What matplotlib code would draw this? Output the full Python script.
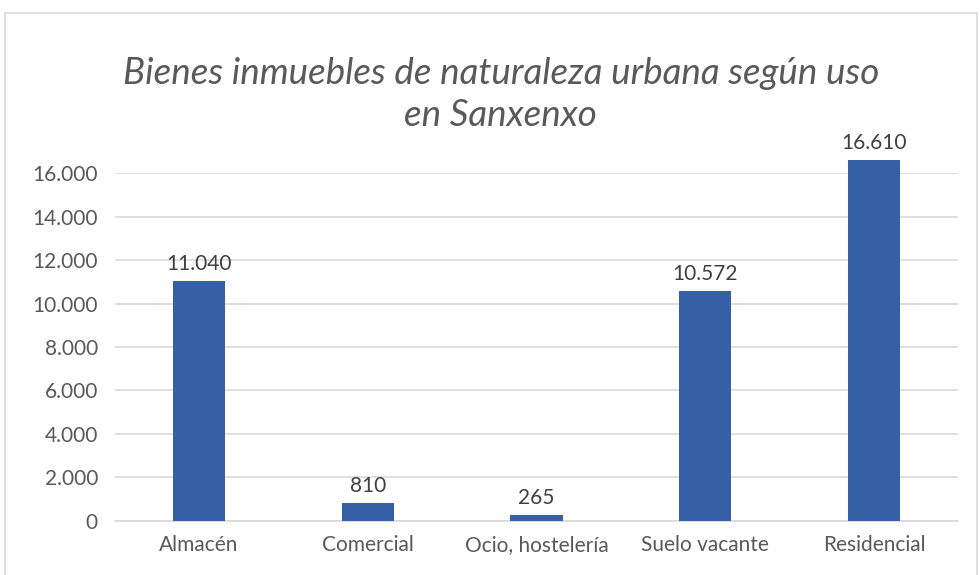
import matplotlib
matplotlib.use('Agg')
import matplotlib.pyplot as plt
from matplotlib.patches import Rectangle

# datos
categorias = ['Almacén', 'Comercial', 'Ocio, hostelería', 'Suelo vacante', 'Residencial']
valores = [11040, 810, 265, 10572, 16610]
ticks_y = [0, 2000, 4000, 6000, 8000, 10000, 12000, 14000, 16000]
etiquetas_y = ['0', '2.000', '4.000', '6.000', '8.000', '10.000', '12.000', '14.000', '16.000']
etiquetas_barras = ['11.040', '810', '265', '10.572', '16.610']
titulo = 'Bienes inmuebles de naturaleza urbana según uso\nen Sanxenxo'

plt.rcParams['font.family'] = ['Lato', 'DejaVu Sans']

fig = plt.figure(figsize=(9.8, 5.75), dpi=100)
ax = fig.add_axes([0.117, 0.094, 0.861, 0.605])

# marco del gráfico
fig.patches.append(Rectangle((5 / 980, -0.05), 972 / 980, 1 - 13 / 575 + 0.05,
                             transform=fig.transFigure, fill=False,
                             edgecolor='#d9d9d9', linewidth=1.2))

x = list(range(len(categorias)))
barras = ax.bar(x, valores, width=0.31, color='#3660a5', zorder=3, clip_on=False)

for xi, v, txt in zip(x, valores, etiquetas_barras):
    ax.annotate(txt, (xi, v), xytext=(0, 5), textcoords='offset points',
                ha='center', va='bottom', fontsize=15, color='#404040',
                annotation_clip=False)

ax.set_xlim(-0.5, 4.5)
ax.set_ylim(0, 16000)
ax.set_yticks(ticks_y)
ax.set_yticklabels(etiquetas_y)
ax.set_xticks(x)
ax.set_xticklabels(categorias)
ax.tick_params(axis='both', length=0, labelsize=15, labelcolor='#595959')
ax.tick_params(axis='y', pad=12)
ax.tick_params(axis='x', pad=10)
ax.grid(axis='y', color='#d9d9d9', linewidth=1.2, zorder=0)
for s in ['top', 'right', 'left']:
    ax.spines[s].set_visible(False)
ax.spines['bottom'].set_color('#d9d9d9')
ax.spines['bottom'].set_linewidth(1.2)

fig.text(0.511, 0.836, titulo, ha='center', va='center', fontsize=26.5,
         style='italic', color='#595959', linespacing=1.32)

fig.savefig('out.png', dpi=100)
